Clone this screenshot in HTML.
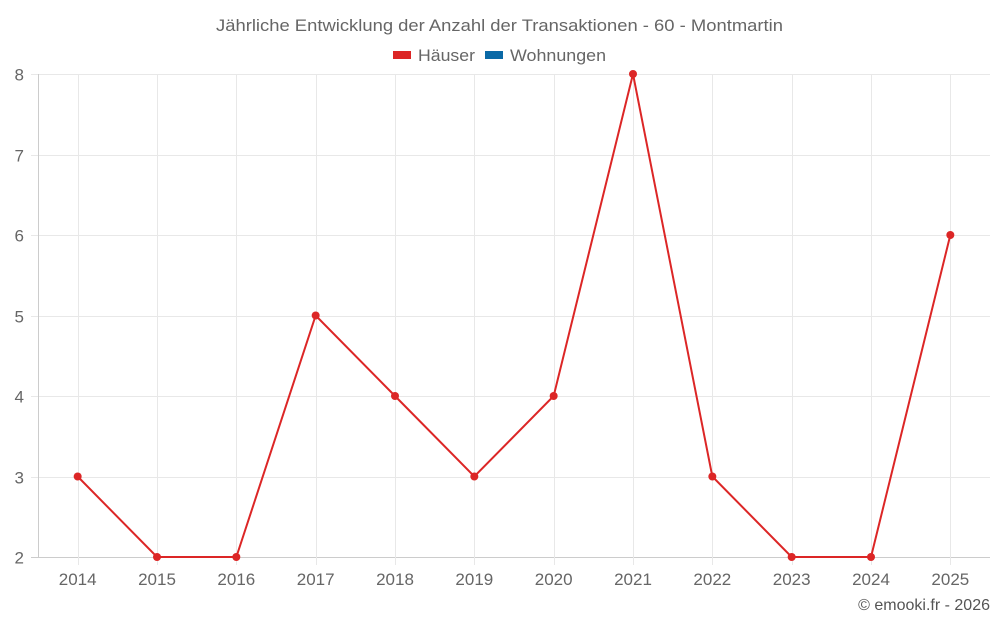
<!DOCTYPE html>
<html><head><meta charset="utf-8"><style>
body{margin:0;background:#fff;width:1000px;height:625px;overflow:hidden;font-family:"Liberation Sans",sans-serif}
</style></head><body>
<svg width="1000" height="625">
<text x="216" y="31" textLength="567" lengthAdjust="spacingAndGlyphs" font-size="17" fill="#666">Jährliche Entwicklung der Anzahl der Transaktionen - 60 - Montmartin</text>
<g>
<g><rect x="393" y="51" width="18" height="8" fill="#dc2626"/><text x="418" y="61" textLength="57" lengthAdjust="spacingAndGlyphs" font-size="17" fill="#666">Häuser</text></g>
<g><rect x="485" y="51" width="18" height="8" fill="#0a69a6"/><text x="510" y="61" textLength="96" lengthAdjust="spacingAndGlyphs" font-size="17" fill="#666">Wohnungen</text></g>
</g>
<g id="grid"></g>
<g id="axes"></g>
<g id="series"></g>
<text x="990" y="610" text-anchor="end" font-size="16" fill="#555">© emooki.fr - 2026</text>
</svg>
<script>
const categories=["2014","2015","2016","2017","2018","2019","2020","2021","2022","2023","2024","2025"];
const haeuser=[3,2,2,5,4,3,4,8,3,2,2,6];
const yTicks=[2,3,4,5,6,7,8];
const L=38,R=990,T=74,B=557,yMin=2,yMax=8;
const bw=(R-L)/categories.length;
const xS=i=>L+bw*(i+0.5);
const yS=v=>B-(v-yMin)/(yMax-yMin)*(B-T);
const NS="http://www.w3.org/2000/svg";
function mk(p,t,a){const e=document.createElementNS(NS,t);for(const k in a)e.setAttribute(k,a[k]);p.appendChild(e);return e;}
const g=document.getElementById('grid'),ax=document.getElementById('axes'),s=document.getElementById('series');
yTicks.forEach(v=>{
 const y=Math.round(yS(v))+0.5;
 const l=mk(g,'line',{x1:31,x2:R,y1:y,y2:y,stroke:v===yMin?'#ccc':'#e8e8e8'});
 
 
 const t=mk(ax,'text',{x:24,y:y+6,'text-anchor':'end','font-size':17,fill:'#666'});t.textContent=v;
 
 
});
categories.forEach((c,i)=>{
 const x=Math.round(xS(i))+0.5;
 const l=mk(g,'line',{x1:x,x2:x,y1:T,y2:B+8,stroke:'#e8e8e8'});
 
 
 const t=mk(ax,'text',{x:xS(i),y:585,'text-anchor':'middle','font-size':17,fill:'#666'});t.textContent=c;
 
 
});
const al=mk(ax,'line',{x1:L+0.5,x2:L+0.5,y1:T,y2:B,stroke:'#ccc'});


const pl=mk(s,'polyline',{points:haeuser.map((v,i)=>xS(i)+','+yS(v)).join(' '),fill:'none',stroke:'#dc2626','stroke-width':2});


haeuser.forEach((v,i)=>{
 const c=mk(s,'circle',{cx:xS(i),cy:yS(v),r:4,fill:'#dc2626'});
 
 
});
</script>
</body></html>
